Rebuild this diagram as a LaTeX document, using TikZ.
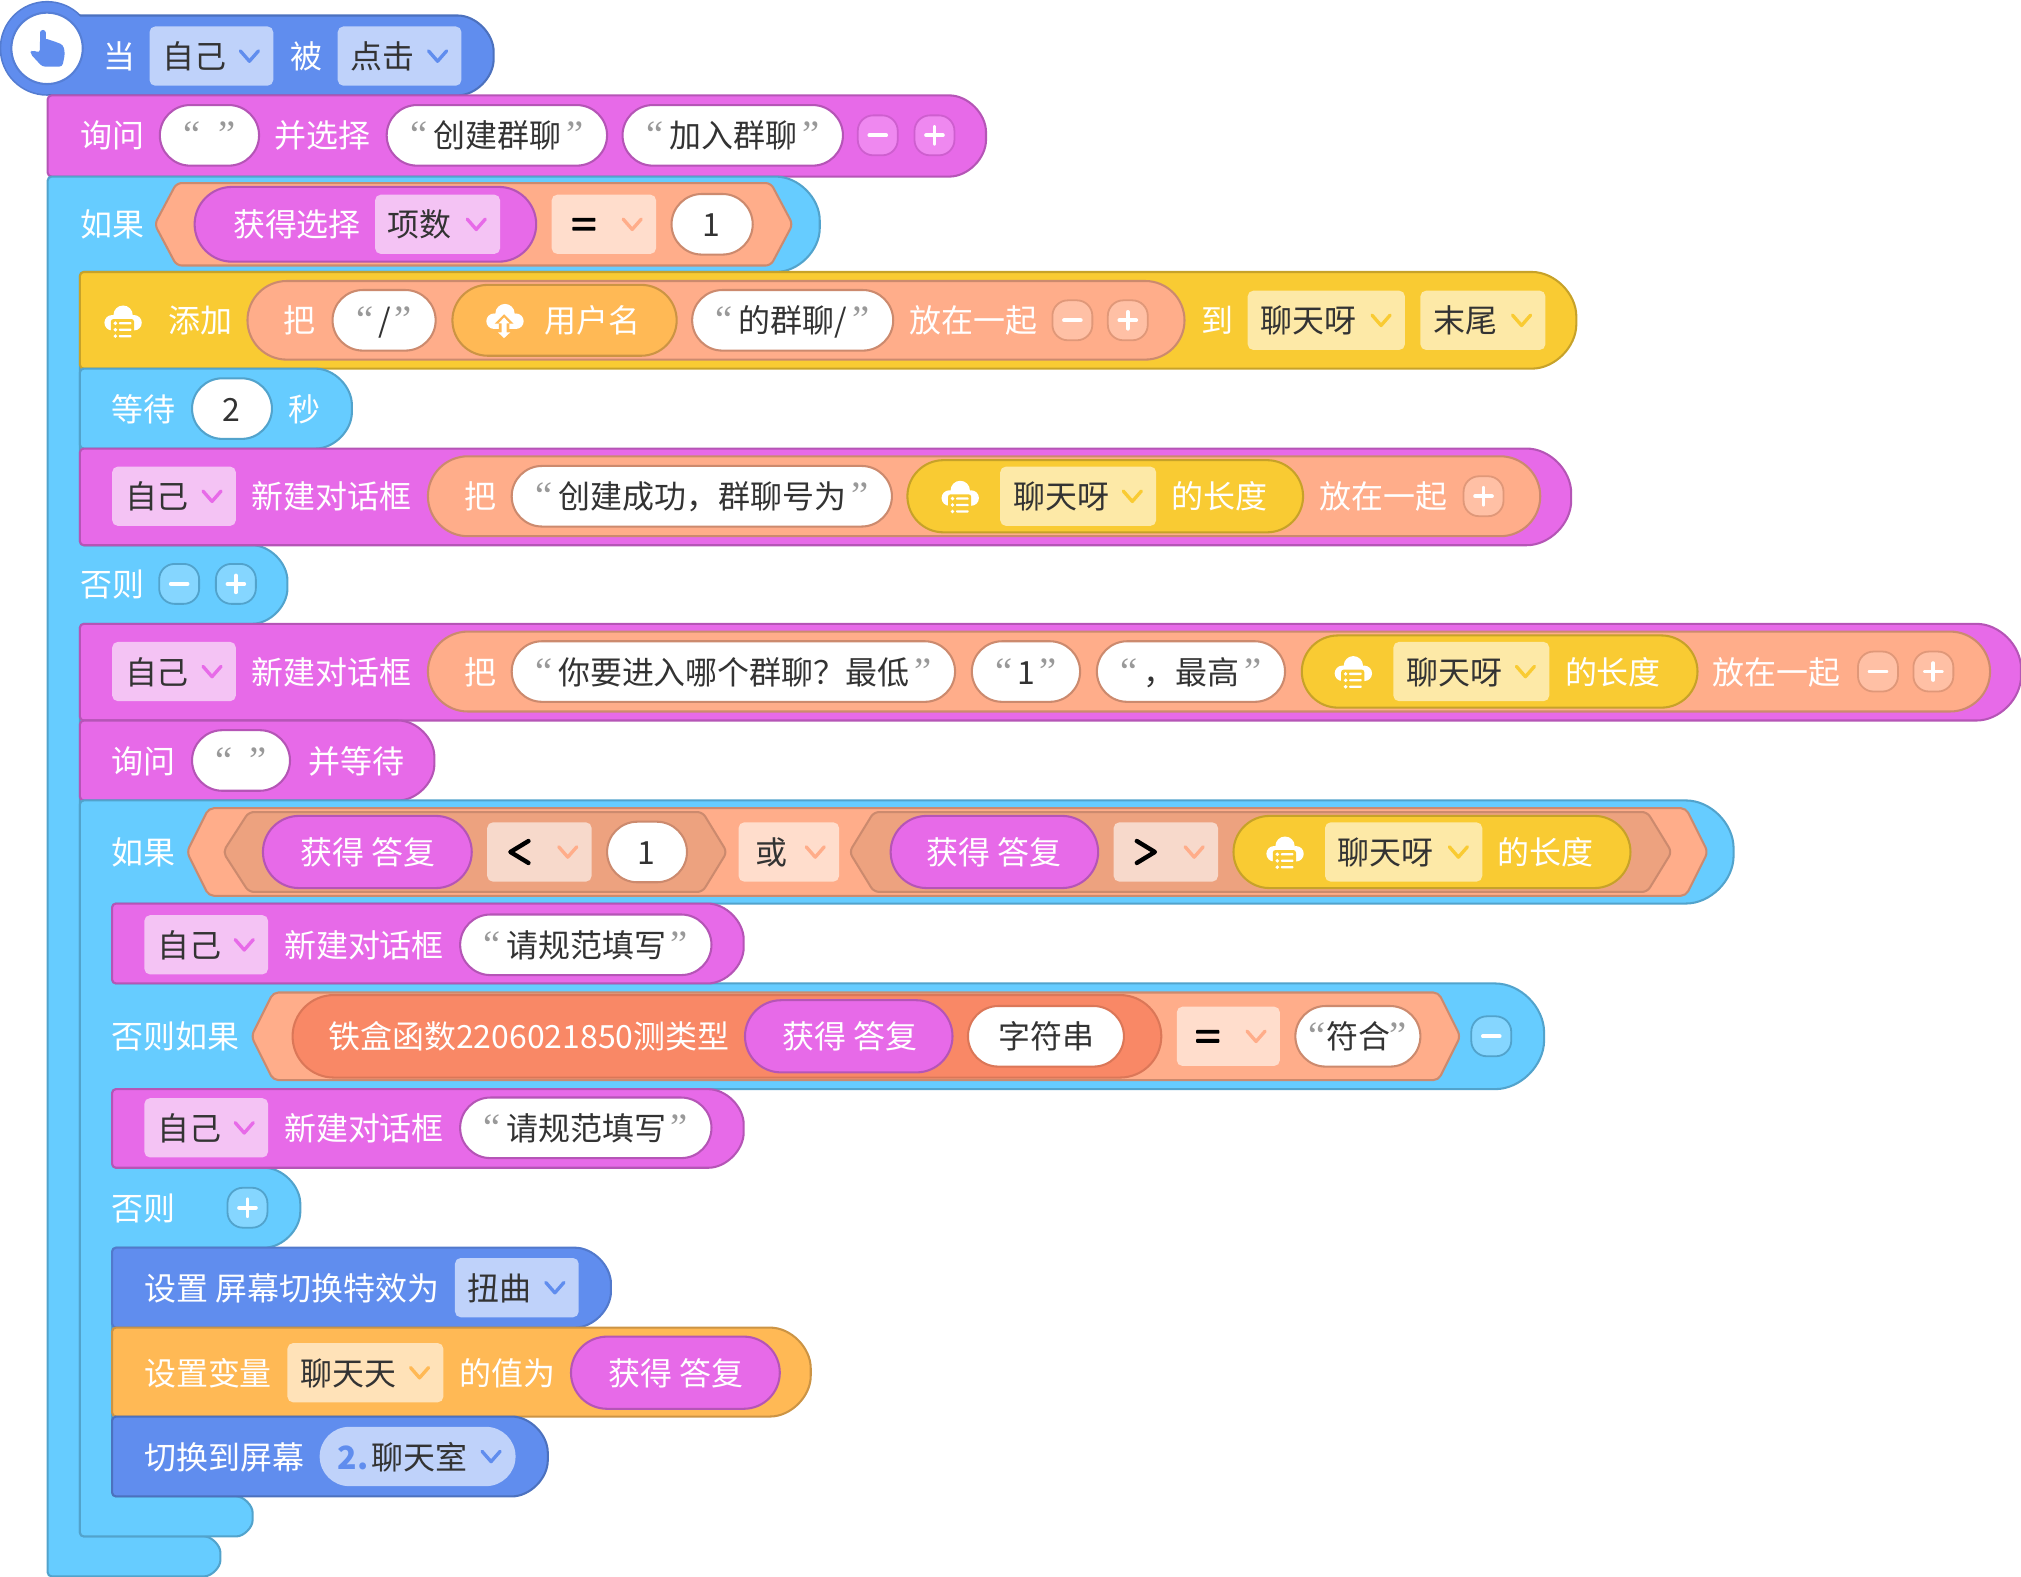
\documentclass[tikz,border=0pt]{standalone}
\usepackage{fontspec}
\setmainfont{Noto Sans CJK SC}
\newfontfamily\qfont{Liberation Serif}
\definecolor{cBlue}{HTML}{608DEE}\definecolor{sBlue}{HTML}{4C71BE}\definecolor{dBlue}{HTML}{BFD2FA}
\definecolor{cMag}{HTML}{E76AE8}\definecolor{sMag}{HTML}{B555B6}\definecolor{dMag}{HTML}{F4C3F4}\definecolor{bMag}{HTML}{EF88F0}
\definecolor{cCy}{HTML}{66CCFF}\definecolor{sCy}{HTML}{52A3CC}\definecolor{bCy}{HTML}{85D6FF}
\definecolor{cYel}{HTML}{F9CB33}\definecolor{sYel}{HTML}{C7A229}\definecolor{dYel}{HTML}{FDE9A7}
\definecolor{cOr}{HTML}{FFB955}\definecolor{sOr}{HTML}{CC9444}\definecolor{dOr}{HTML}{FFE2B8}
\definecolor{cPe}{HTML}{FFAD8A}\definecolor{sPe}{HTML}{CC8A6E}\definecolor{dPe}{HTML}{FFDDCC}\definecolor{bPe}{HTML}{FFC0A5}
\definecolor{cDk}{HTML}{EDA27F}\definecolor{dDk}{HTML}{F7D9CB}
\definecolor{cRed}{HTML}{F98866}\definecolor{sRed}{HTML}{DB7758}
\definecolor{ink}{HTML}{333333}\definecolor{qgray}{HTML}{999999}
\newcounter{tn}
\tikzset{
  txt/.style={anchor=base,inner sep=0pt,outer sep=0pt,font=\fontsize{12.4}{14}\selectfont},
  edge/.style={line width=0.8pt,line join=round},
  chevline/.style={line width=1.3pt,line cap=round,line join=round},
  glyphline/.style={line width=1.5pt,line cap=round,color=white},
}
% text: centre x, row centre y
\newcommand{\Tw}[3]{\stepcounter{tn}\node[txt,text=white,yshift=-4.9pt,xshift=.2pt] (t\thetn) at (#1,#2) {#3};}
\newcommand{\Tk}[3]{\stepcounter{tn}\node[txt,text=ink,yshift=-4.9pt,xshift=.2pt] (t\thetn) at (#1,#2) {#3};}
\newcommand{\Tl}[3]{\stepcounter{tn}\node[txt,anchor=base west,text=ink,yshift=-4.9pt] (t\thetn) at (#1,#2) {#3};}
% round end of a block, as a path piece: \MkCap\name{x2}{y1}{y2}
\newcommand{\MkCap}[4]{%
  \pgfmathsetmacro\tr{(#4-#3)/2}\pgfmathsetmacro\xs{#2-\tr}\pgfmathsetmacro\xk{#2-.448*\tr}%
  \pgfmathsetmacro\ym{(#3+#4)/2}\pgfmathsetmacro\yA{\ym-.552*\tr}\pgfmathsetmacro\yB{\ym+.552*\tr}%
  \edef#1{-- (\xs,#3) .. controls (\xk,#3) and (#2,\yA) .. (#2,\ym) .. controls (#2,\yB) and (\xk,#4) .. (\xs,#4)}}
% stack block with square left, round right
\newcommand{\Blk}[6]{%x1 y1 x2 y2 fill stroke
  \MkCap\capB{#3}{#2}{#4}%
  \draw[edge,fill=#5,draw=#6,rounded corners=1.5pt] (#1,#4) -- (#1,#2) \capB -- cycle;}
\newcommand{\Pill}[6]{%x1 y1 x2 y2 fill stroke
  \pgfmathsetmacro\rr{(#4-#2)/4}%
  \draw[edge,fill=#5,draw=#6,rounded corners=\rr pt] (#1,#2) rectangle (#3,#4);}
\newcommand{\NW}[5]{%x1 x2 yc stroke text
  \pgfmathsetmacro\ya{#3-23.5}\pgfmathsetmacro\yb{#3+23.5}\pgfmathsetmacro\xc{(#1+#2)/2}%
  \Pill{#1}{\ya}{#2}{\yb}{white}{#4}\Tk{\xc}{#3}{#5}}
\newcommand{\QW}[6][25]{%offset; x1 x2 yc stroke text
  \NW{#2}{#3}{#4}{#5}{#6}%
  \pgfmathsetmacro\xa{#2+#1}\pgfmathsetmacro\xb{#3-#1}%
  \stepcounter{tn}\node[txt,text=qgray,yshift=-4.9pt,font=\qfont\fontsize{15}{15}\selectfont] (t\thetn) at (\xa,#4) {“};%
  \stepcounter{tn}\node[txt,text=qgray,yshift=-4.9pt,font=\qfont\fontsize{15}{15}\selectfont] (t\thetn) at (\xb,#4) {”};}
\newcommand{\Chev}[3]{\pgfmathsetmacro\xa{#1-7}\pgfmathsetmacro\xb{#1+7}\pgfmathsetmacro\ya{#2-4}\pgfmathsetmacro\yb{#2+4}%
  \draw[chevline,draw=#3] (\xa,\ya) -- (#1,\yb) -- (\xb,\ya);}
\newcommand{\DdBox}[5]{%x1 x2 yc fill chev
  \pgfmathsetmacro\ya{#3-23}\pgfmathsetmacro\yb{#3+23}\pgfmathsetmacro\xc{#2-18.5}%
  \fill[fill=#4,rounded corners=2.2pt] (#1,\ya) rectangle (#2,\yb);\Chev{\xc}{#3}{#5}}
\newcommand{\Dd}[6]{%x1 x2 yc fill chev text
  \DdBox{#1}{#2}{#3}{#4}{#5}\pgfmathsetmacro\xt{#1+10}\Tl{\xt}{#3}{#6}}
\newcommand{\Eq}[2]{\pgfmathsetmacro\xa{#1-9}\pgfmathsetmacro\xb{#1+9}%
  \pgfmathsetmacro\ya{#2-5}\pgfmathsetmacro\yb{#2-2}\pgfmathsetmacro\yc{#2+2}\pgfmathsetmacro\yd{#2+5}%
  \fill[black,rounded corners=.3pt] (\xa,\ya) rectangle (\xb,\yb) (\xa,\yc) rectangle (\xb,\yd);}
\newcommand{\Angle}[3]{\pgfmathsetmacro\xa{#1+#3}\pgfmathsetmacro\xb{#1-#3}\pgfmathsetmacro\ya{#2-8.5}\pgfmathsetmacro\yb{#2+8.5}%
  \draw[line width=1.7pt,line cap=round,line join=round] (\xa,\ya) -- (\xb,#2) -- (\xa,\yb);}
\newcommand{\Btn}[4]{\pgfmathsetmacro\xa{#1-15.5}\pgfmathsetmacro\xb{#1+15.5}\pgfmathsetmacro\ya{#2-15.5}\pgfmathsetmacro\yb{#2+15.5}%
  \draw[line width=.7pt,fill=#3,draw=#4,rounded corners=6pt] (\xa,\ya) rectangle (\xb,\yb);}
\newcommand{\BM}[4]{\Btn{#1}{#2}{#3}{#4}\pgfmathsetmacro\xa{#1-6.5}\pgfmathsetmacro\xb{#1+6.5}\draw[glyphline] (\xa,#2) -- (\xb,#2);}
\newcommand{\BP}[4]{\Btn{#1}{#2}{#3}{#4}\pgfmathsetmacro\xa{#1-6.5}\pgfmathsetmacro\xb{#1+6.5}\pgfmathsetmacro\ya{#2-6.5}\pgfmathsetmacro\yb{#2+6.5}%
  \draw[glyphline] (\xa,#2) -- (\xb,#2) (#1,\ya) -- (#1,\yb);}
\newcommand{\Hex}[8]{%xl xcl xcr xr y1 y2 fill stroke
  \pgfmathsetmacro\ym{(#5+#6)/2}%
  \draw[edge,fill=#7,draw=#8,rounded corners=2pt] (#2,#5) -- (#3,#5) -- (#4,\ym) -- (#3,#6) -- (#2,#6) -- (#1,\ym) -- cycle;}
\newcommand{\Cloud}[1]{%
  \fill[white] (0,-5) circle[radius=7.5] (-8.5,.9) circle[radius=6] (8.5,.9) circle[radius=6];
  \fill[white] (-8.5,-1) rectangle (8.5,6.9);}
\newcommand{\CloudList}[3]{\begin{scope}[shift={(#1,#2)}]\Cloud{}
  \fill[#3,rounded corners=1pt] (-9.5,-2) rectangle (8.5,14);
  \foreach \yy in {1.3,6.3,11.3}{\fill[white] (-6,\yy) circle[radius=1.5];\fill[white,rounded corners=.3pt] (-3.2,\yy-.9) rectangle (6.5,\yy+.9);}
  \end{scope}}
\newcommand{\CloudUp}[3]{\begin{scope}[shift={(#1,#2)}]\Cloud{}
  \fill[#3] (-.7,-4.5) -- (-8,2.8) -- (-4.8,2.8) -- (-4.8,7.5) -- (3.4,7.5) -- (3.4,2.8) -- (6.6,2.8) -- cycle;
  \fill[white] (-.7,-2) -- (-5,2.6) -- (-2.7,2.6) -- (-2.7,9.5) -- (-5.5,9.5) -- (-.7,14) -- (4.1,9.5) -- (1.3,9.5) -- (1.3,2.6) -- (3.6,2.6) -- cycle;
  \end{scope}}
\begin{document}
\begin{tikzpicture}[x=0.5pt,y=-0.5pt]
\useasboundingbox (0,0) rectangle (1568,1223);
% ---------- hat
\draw[edge,fill=cBlue,draw=sBlue!60!cBlue] (36.5,37.5) circle[radius=36];
\Blk{37}{12}{383}{74}{cBlue}{sBlue}
\fill[cBlue] (36.5,37.5) circle[radius=35.5];
\draw[line width=.8pt,fill=white,draw=sBlue!50!cBlue] (36.5,37.5) circle[radius=27.7];
\draw[line width=2.3pt,line cap=round,cBlue] (33.1,25.5) -- (33.1,42);
\fill[cBlue,rounded corners=1.2pt] (31,30) -- (35.4,30) -- (38.8,31) -- (44,32.8) -- (49.1,34.9) -- (50.4,41.4) -- (48.4,51.7) -- (32.8,51.7) -- (23.3,41.4) -- (24.6,38.8) -- (31,40.9) -- cycle;
\Tw{92}{43}{当}
\Dd{116}{212}{43.5}{dBlue}{cBlue}{自己}
\Tw{237}{43}{被}
\Dd{262}{358}{43.5}{dBlue}{cBlue}{点击}
% ---------- ask
\Blk{37}{74}{765}{137}{cMag}{sMag}
\Tw{87}{105}{询问}
\QW{124}{201}{105}{sMag}{}
\Tw{250}{105}{并选择}
\QW{300}{471}{105}{sMag}{创建群聊}
\QW{483}{654}{105}{sMag}{加入群聊}
\BM{681}{105}{bMag}{sMag!50!cMag}
\BP{725}{105}{bMag}{sMag!50!cMag}
% ---------- outer if
\MkCap\capA{636}{137}{211}\let\capAa\capA
\MkCap\capA{223}{423}{484}\let\capAb\capA
\MkCap\capA{171}{1192}{1223}\let\capAc\capA
\draw[edge,fill=cCy,draw=sCy,rounded corners=1.5pt] (37,180) -- (37,137) \capAa -- (62,211) -- (62,423)
  \capAb -- (62,484) -- (62,1192) \capAc -- (37,1223) -- cycle;
\Tw{87}{174}{如果}
\Hex{120}{137}{598}{615}{142}{206}{cPe}{sPe}
\Pill{151}{145}{416}{203}{cMag}{sMag}
\Tw{230}{174}{获得选择}
\Dd{291}{388}{174}{dMag}{cMag}{项数}
\DdBox{428}{509}{174}{dPe}{cPe}\Eq{453}{174}
\NW{521}{584}{174}{sPe}{\hspace*{-1pt}1}
% ---------- add
\Blk{62}{211}{1223}{286}{cYel}{sYel}
\CloudList{95.5}{249.5}{cYel}
\Tw{155}{248}{添加}
\Pill{192}{218}{919}{279}{cPe}{sPe}
\Tw{232}{248}{把}
\QW{258}{338}{248.5}{sPe}{/}
\Pill{351}{221}{525}{276}{cOr}{sOr}
\CloudUp{391.8}{248.3}{cOr}
\Tw{459}{248}{用户名}
\QW{537}{693}{248.5}{sPe}{的群聊/}
\Tw{755}{248}{放在一起}
\BM{832}{248.5}{bPe}{sPe!60!cPe}
\BP{875}{248.5}{bPe}{sPe!60!cPe}
\Tw{944}{248}{到}
\Dd{968}{1090}{248.5}{dYel}{cYel}{聊天呀}
\Dd{1102}{1199}{248.5}{dYel}{cYel}{末尾}
% ---------- wait
\Blk{62}{286}{273}{348}{cCy}{sCy}
\Tw{111}{317}{等待}
\NW{149}{211}{317}{sCy}{\hspace*{-1pt}2}
\Tw{236}{317}{秒}
% ---------- dialog 1
\Blk{62}{348}{1219}{423}{cMag}{sMag}
\Dd{87}{183}{385}{dMag}{cMag}{自己}
\Tw{257}{385}{新建对话框}
\Pill{332}{354}{1195}{416}{cPe}{sPe}
\Tw{372}{385}{把}
\QW{397}{692}{385}{sPe}{创建成功，群聊号为}
\Pill{704}{357}{1011}{413}{cYel}{sYel}
\CloudList{745}{385.5}{cYel}
\Dd{776}{897}{385}{dYel}{cYel}{聊天呀}
\Tw{946}{385}{的长度}
\Tw{1073}{385}{放在一起}
\BP{1151}{385}{bPe}{sPe!60!cPe}
% ---------- else
\Tw{87}{453}{否则}
\BM{139}{453}{bCy}{sCy}
\BP{183}{453}{bCy}{sCy}
% ---------- dialog 2
\Blk{62}{484}{1568}{559}{cMag}{sMag}
\Dd{87}{183}{521}{dMag}{cMag}{自己}
\Tw{257}{521}{新建对话框}
\Pill{332}{490}{1544}{552}{cPe}{sPe}
\Tw{372}{521}{把}
\QW{397}{741}{521}{sPe}{你要进入哪个群聊？最低}
\QW{754}{838}{521}{sPe}{1}
\QW{851}{997}{521}{sPe}{，最高}
\Pill{1010}{493}{1317}{549}{cYel}{sYel}
\CloudList{1050}{521.5}{cYel}
\Dd{1081}{1202}{521}{dYel}{cYel}{聊天呀}
\Tw{1251}{521}{的长度}
\Tw{1378}{521}{放在一起}
\BM{1457}{521}{bPe}{sPe!60!cPe}
\BP{1500}{521}{bPe}{sPe!60!cPe}
% ---------- ask and wait
\Blk{62}{559}{337}{621}{cMag}{sMag}
\Tw{111}{590}{询问}
\QW{149}{225}{590}{sMag}{}
\Tw{276}{590}{并等待}
% ---------- inner if
\MkCap\capA{1345}{621}{701}\let\capBa\capA
\MkCap\capA{1198}{763}{845}\let\capBb\capA
\MkCap\capA{233}{906}{968}\let\capBc\capA
\MkCap\capA{196}{1161}{1192}\let\capBd\capA
\draw[edge,fill=cCy,draw=sCy,rounded corners=1.5pt] (62,640) -- (62,621) \capBa -- (87,701) -- (87,763)
  \capBb -- (87,845) -- (87,906) \capBc -- (87,968) -- (87,1161) \capBd -- (62,1192) -- cycle;
\Tw{111}{661}{如果}
\Hex{145}{162}{1308}{1325}{627}{695}{cPe}{sPe}
\Hex{173}{193}{545}{564}{630}{692}{cDk}{sPe}
\Pill{204}{633}{366}{689}{cMag}{sMag}
\Tw{285}{661}{获得 答复}
\DdBox{378}{459}{661}{dDk}{cPe}\Angle{403}{661}{7}
\NW{471}{533}{661}{sPe}{\hspace*{-1pt}1}
\DdBox{573}{651}{661}{dPe}{cPe}\Tk{598}{661}{或}
\Hex{659}{678}{1278}{1297}{630}{692}{cDk}{sPe}
\Pill{691}{633}{852}{689}{cMag}{sMag}
\Tw{771}{661}{获得 答复}
\DdBox{864}{945}{661}{dDk}{cPe}\Angle{889}{661}{-7}
\Pill{957}{633}{1265}{689}{cYel}{sYel}
\CloudList{997}{661.5}{cYel}
\Dd{1028}{1150}{661}{dYel}{cYel}{聊天呀}
\Tw{1199}{661}{的长度}
% ---------- dialog 3
\Blk{87}{701}{577}{763}{cMag}{sMag}
\Dd{112}{208}{733}{dMag}{cMag}{自己}
\Tw{282}{733}{新建对话框}
\QW{357}{552}{733}{sMag}{请规范填写}
% ---------- else if
\Tw{136}{804}{否则如果}
\Hex{195}{212}{1116}{1133}{770}{838}{cPe}{sPe}
\Pill{227}{772}{901}{836}{cRed}{sRed}
\Tw{410}{804}{铁盒函数2206021850测类型}
\Pill{578}{776}{739}{832}{cMag}{sMag}
\Tw{659}{804}{获得 答复}
\NW{751}{872}{804}{sRed}{字符串}
\DdBox{913}{993}{804}{dPe}{cPe}\Eq{937}{804}
\QW[17]{1005}{1102}{804}{sPe}{符合}
\BM{1157}{804}{bCy}{sCy}
% ---------- dialog 4
\Blk{87}{845}{577}{906}{cMag}{sMag}
\Dd{112}{208}{875}{dMag}{cMag}{自己}
\Tw{282}{875}{新建对话框}
\QW{357}{552}{875}{sMag}{请规范填写}
% ---------- else 2
\Tw{111}{937}{否则}
\BP{192}{937}{bCy}{sCy}
% ---------- set effect
\Blk{87}{968}{474}{1030}{cBlue}{sBlue!70!cBlue}
\Tw{226}{999}{设置 屏幕切换特效为}
\Dd{353}{449}{999}{dBlue}{cBlue}{扭曲}
% ---------- set variable
\Blk{87}{1030}{629}{1099}{cOr}{sOr}
\Tw{161}{1065}{设置变量}
\Dd{223}{344}{1065}{dOr}{cOr}{聊天天}
\Tw{393}{1065}{的值为}
\Pill{443}{1037}{605}{1093}{cMag}{sMag}
\Tw{524}{1065}{获得 答复}
% ---------- switch
\Blk{87}{1099}{425}{1161}{cBlue}{sBlue}
\Tw{174}{1130}{切换到屏幕}
\fill[dBlue,rounded corners=11.5pt] (248,1107) rectangle (400,1153);
\stepcounter{tn}\node[txt,text=cBlue,yshift=-4.9pt,font=\fontsize{12.4}{14}\selectfont\bfseries] (t\thetn) at (274,1130) {2.};
\Tk{325}{1130}{聊天室}
\Chev{381}{1130}{cBlue}
\end{tikzpicture}
\end{document}
